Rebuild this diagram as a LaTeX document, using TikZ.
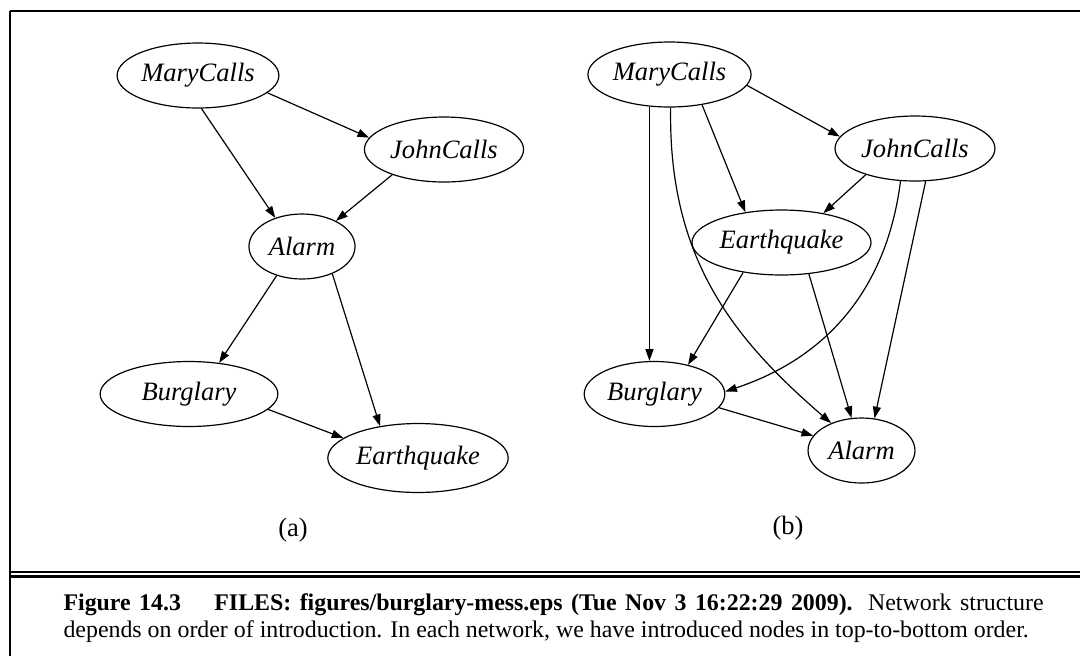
\documentclass[tikz,border=0pt]{standalone}
\usepackage{fontspec}
\setmainfont{Liberation Serif}
\usetikzlibrary{arrows.meta,shapes.geometric}

\begin{document}
\begin{tikzpicture}[x=0.377pt,y=-0.377pt,>={Triangle[length=4.4pt,width=3pt]},
  nd/.style={ellipse,draw,line width=0.45pt,minimum height=24.5pt,inner sep=0pt,font=\itshape\fontsize{10}{12}\selectfont},
  ar/.style={->,line width=0.45pt},
  rule/.style={line width=0.8pt},
  lab/.style={font=\fontsize{10}{12}\selectfont}]
\useasboundingbox (0,0) rectangle (1080,656);
\draw[line width=1.1pt] (10,11) -- (1080,11); \draw[line width=0.75pt] (10,11) -- (10,656);
\draw[rule] (10,572) -- (1080,572); \draw[rule] (10,576.5) -- (1080,576.5);
\node[nd,minimum width=61pt] (ma) at (198,75.5) {MaryCalls};
\node[nd,minimum width=60pt] (ja) at (444,149.5) {JohnCalls};
\node[nd,minimum width=40pt] (aa) at (302,246.5) {Alarm};
\node[nd,minimum width=67pt] (ba) at (189,394) {Burglary};
\node[nd,minimum width=68pt,minimum height=26pt] (ea) at (418,458) {Earthquake};
\draw[ar] (ma.346) -- (ja.171); \draw[ar] (ma.276) -- (aa.133); \draw[ar] (ja.206) -- (aa.37);
\draw[ar] (aa.229) -- (ba.46); \draw[ar] (aa.318) -- (ea.140); \draw[ar] (ba.349) -- (ea.165);
\node[lab] (la) at (293,530) {(a)};
\node[nd,minimum width=61.5pt] (mb) at (669.5,74.5) {MaryCalls};
\node[nd,minimum width=60.3pt] (jb) at (915,148.5) {JohnCalls};
\node[nd,minimum width=67.5pt] (eb) at (781.5,242.5) {Earthquake};
\node[nd,minimum width=53pt] (bb) at (654.5,394) {Burglary};
\node[nd,minimum width=40.3pt] (ab) at (861.5,450.5) {Alarm};
\draw[ar] (mb.352) -- (jb.171); \draw[ar] (mb.317) -- (eb.140); \draw[ar] (mb.238) -- (mb.238 |- bb.north);
\draw[ar] (mb.272) .. controls (668,260) and (735,340) .. (ab.138);
\draw[ar] (jb.208) -- (eb.35); \draw[ar] (jb.288) -- (ab.68);
\draw[ar] (jb.246) .. controls (888,280) and (835,355) .. (bb.2);
\draw[ar] (eb.218) -- (bb.41); \draw[ar] (eb.311) -- (ab.107); \draw[ar] (bb.348) -- (ab.163);
\node[lab] (lb) at (788,528) {(b)};
\node[anchor=north west,inner sep=0pt,text width=369.5pt,align=justify,font=\fontsize{9}{10.2}\selectfont] (cap) at (63,593)
  {\textbf{Figure 14.3}\hspace{1.4em}\textbf{FILES: figures/burglary-mess.eps (Tue Nov 3 16:22:29 2009).} Network structure depends on order of introduction. In each network, we have introduced nodes in top-to-bottom order.};
\end{tikzpicture}
\end{document}
